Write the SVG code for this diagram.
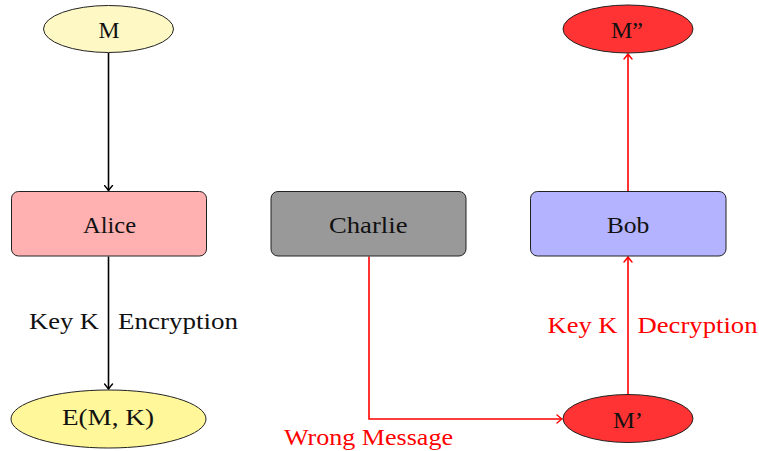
<svg xmlns="http://www.w3.org/2000/svg" width="759" height="451" viewBox="0 0 759 451" font-family="'Liberation Serif', 'DejaVu Serif', serif">
  <style>
    text { font-family: "Liberation Serif", "DejaVu Serif", serif; font-size: 24px; fill: #111; }
    .red { fill: #ff0000; }
    .node { stroke: #222; stroke-width: 1; }
    .edge { fill: none; stroke-width: 1.6; }
    .blk { stroke: #000; }
    .rd { stroke: #ff0000; }
  </style>
  <defs>
    <marker id="tipBlack" viewBox="-6 -5 8 10" markerWidth="8" markerHeight="10" refX="0" refY="0" orient="auto" markerUnits="userSpaceOnUse">
      <path d="M-5,-4 Q-1.5,-1 0,0 Q-1.5,1 -5,4" fill="none" stroke="#000" stroke-width="1.4" stroke-linecap="round"/>
    </marker>
    <marker id="tipRed" viewBox="-6 -5 8 10" markerWidth="8" markerHeight="10" refX="0" refY="0" orient="auto" markerUnits="userSpaceOnUse">
      <path d="M-5,-4 Q-1.5,-1 0,0 Q-1.5,1 -5,4" fill="none" stroke="#ff0000" stroke-width="1.4" stroke-linecap="round"/>
    </marker>
  </defs>

  <rect width="759" height="451" fill="#ffffff"/>

  <!-- connectors and their labels -->
  <g id="connectors">
    <line class="edge blk" x1="108.5" y1="53" x2="108.5" y2="190.5" marker-end="url(#tipBlack)"/>
    <line class="edge blk" x1="108.5" y1="256.5" x2="108.5" y2="389" marker-end="url(#tipBlack)"/>
    <polyline class="edge rd" points="369,256.5 369,419 562,419" marker-end="url(#tipRed)"/>
    <line class="edge rd" x1="628" y1="394.5" x2="628" y2="257" marker-end="url(#tipRed)"/>
    <line class="edge rd" x1="628" y1="191.5" x2="628" y2="54" marker-end="url(#tipRed)"/>
    <text x="29" y="329" textLength="70" lengthAdjust="spacingAndGlyphs">Key K</text>
    <text x="118" y="329" textLength="120" lengthAdjust="spacingAndGlyphs">Encryption</text>
    <text class="red" x="547.5" y="332.5" textLength="70" lengthAdjust="spacingAndGlyphs">Key K</text>
    <text class="red" x="637.5" y="332.5" textLength="120" lengthAdjust="spacingAndGlyphs">Decryption</text>
    <text class="red" x="284" y="445" textLength="169" lengthAdjust="spacingAndGlyphs">Wrong Message</text>
  </g>

  <g id="m">
    <ellipse class="node" cx="108.5" cy="29" rx="65" ry="23.5" fill="#fef9c4"/>
    <text x="98.5" y="38.3" textLength="21" lengthAdjust="spacingAndGlyphs">M</text>
  </g>
  <g id="alice">
    <rect class="node" x="11.5" y="191.5" width="195" height="64.5" rx="7" fill="#ffb1b1"/>
    <text x="83" y="233.3" textLength="53" lengthAdjust="spacingAndGlyphs">Alice</text>
  </g>
  <g id="charlie">
    <rect class="node" x="271" y="191.5" width="195" height="64.5" rx="7" fill="#999999"/>
    <text x="329" y="233.3" textLength="78.5" lengthAdjust="spacingAndGlyphs">Charlie</text>
  </g>
  <g id="bob">
    <rect class="node" x="530.5" y="191.5" width="195.5" height="64.5" rx="7" fill="#b3b3ff"/>
    <text x="606.7" y="233.3" textLength="42.7" lengthAdjust="spacingAndGlyphs">Bob</text>
  </g>
  <g id="emk">
    <ellipse class="node" cx="108.5" cy="419" rx="97.5" ry="29" fill="#fff799"/>
    <text x="62" y="425" textLength="92" lengthAdjust="spacingAndGlyphs">E(M, K)</text>
  </g>
  <g id="mprime">
    <ellipse class="node" cx="628" cy="418.5" rx="65" ry="24" fill="#ff3333"/>
    <text x="613" y="428" textLength="30" lengthAdjust="spacingAndGlyphs">M’</text>
  </g>
  <g id="mdouble">
    <ellipse class="node" cx="628" cy="29" rx="65" ry="24" fill="#ff3333"/>
    <text x="611" y="38.3" textLength="32" lengthAdjust="spacingAndGlyphs">M”</text>
  </g>
</svg>
